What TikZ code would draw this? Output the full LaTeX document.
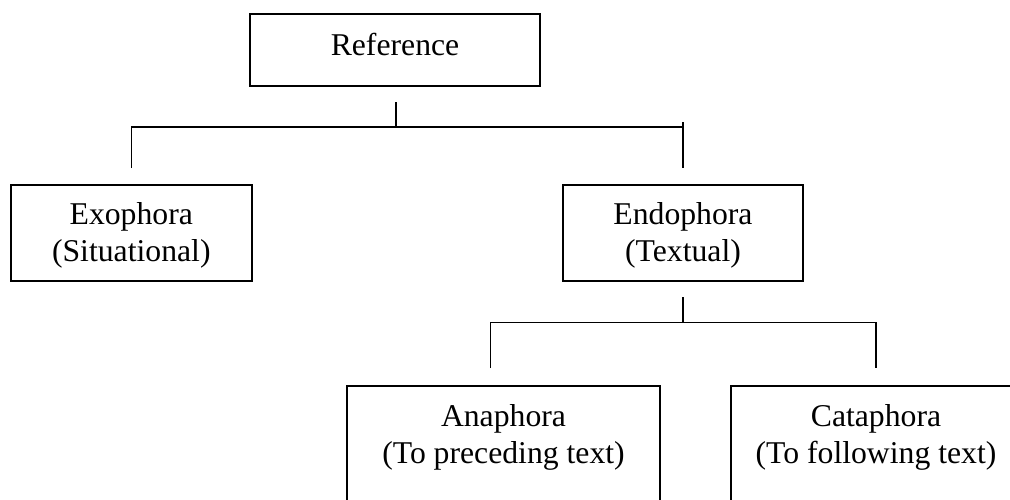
\documentclass[tikz,border=0pt]{standalone}
\usepackage{fontspec}
\setmainfont{Liberation Serif}
\usetikzlibrary{calc}
\begin{document}
\begin{tikzpicture}[x=1pt,y=-1pt,
  box/.style={draw, line width=2pt, inner sep=0pt, align=center,
    font=\fontsize{31.7}{37}\selectfont},
  conn/.style={line width=1.4pt}]
\useasboundingbox (0,0) rectangle (1010,499);
\clip (0,0) rectangle (1010,499);
\node[box, minimum width=290, minimum height=72, text height=21.6pt, text depth=10pt] (ref) at (395,50) {Reference};
\node[box, minimum width=240.7, minimum height=96] (exo) at (131.3,233) {\rule{0pt}{27.6pt}Exophora\\(Situational)};
\node[box, minimum width=240, minimum height=96] (endo) at (683,233) {\rule{0pt}{27.6pt}Endophora\\(Textual)};
\node[box, minimum width=313, minimum height=133.4] (ana) at (503.5,452.2) {Anaphora\\(To preceding text)\\\mbox{}};
\node[box, minimum width=290, minimum height=133.4] (cat) at (876,452.2) {Cataphora\\(To following text)\\\mbox{}};
% first level
\coordinate (h1) at ($(ref.south)+(1,40)$);
\draw[conn] ($(ref.south)+(1,15)$) -- (h1);
\draw[conn] ($(exo.north)+(0,-16)$) -- (exo.north |- h1) -- (endo.north |- h1);
\draw[conn] ($(endo.north |- h1)+(0,-5)$) -- ($(endo.north)+(0,-16)$);
% second level
\coordinate (h2) at ($(endo.south)+(0,40.7)$);
\draw[conn] ($(endo.south)+(0,15)$) -- (h2);
\coordinate (al) at ($(ana.north west)+(144.7,0)$);
\draw[conn] ($(al)+(0,-16.5)$) -- (al |- h2) -- (cat.north |- h2) -- ($(cat.north)+(0,-16.5)$);
\end{tikzpicture}
\end{document}
